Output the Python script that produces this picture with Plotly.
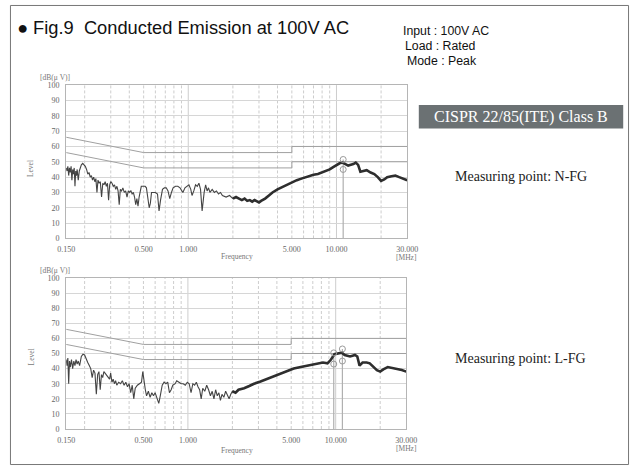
import plotly.graph_objects as go
import numpy as np

W, H = 641, 471

# ---------------- data ----------------
x_tick_vals = [0.15, 0.5, 1, 5, 10, 30]
x_tick_text = ["0.150", "0.500", "1.000", "5.000", "10.000", "30.000"]
y_tick_vals = [0, 10, 20, 30, 40, 50, 60, 70, 80, 90, 100]
grid_freq = [0.2, 0.3, 0.4, 0.5, 0.6, 0.7, 0.8, 0.9, 1, 2, 3, 4, 5, 6, 7, 8, 9, 10, 20]
decade_freq = [1, 10]

limit_freq = [0.15, 0.5, 5, 5, 30]
limit_qp = [66, 56, 56, 60, 60]
limit_av = [56, 46, 46, 50, 50]

nfg_freq = [0.150, 0.152, 0.154, 0.156, 0.158, 0.160, 0.162, 0.164, 0.166, 0.168, 0.170, 0.172, 0.174, 0.176,
            0.178, 0.181, 0.184, 0.187, 0.190, 0.194, 0.198, 0.202, 0.206, 0.210, 0.214, 0.218, 0.222, 0.226,
            0.230, 0.234, 0.238, 0.242, 0.246, 0.250, 0.255, 0.260, 0.265, 0.270, 0.275, 0.280, 0.285, 0.290,
            0.295, 0.300, 0.306, 0.312, 0.318, 0.324, 0.330, 0.336, 0.342, 0.348, 0.355, 0.362, 0.370, 0.378,
            0.386, 0.394, 0.402, 0.410, 0.418, 0.426, 0.434, 0.442, 0.450, 0.458, 0.466, 0.474, 0.482, 0.492,
            0.502, 0.512, 0.522, 0.532, 0.545, 0.555, 0.565, 0.58, 0.60, 0.62, 0.635, 0.65, 0.67, 0.69, 0.71,
            0.73, 0.75, 0.77, 0.79, 0.82, 0.85, 0.88, 0.92, 0.95, 0.98, 1.01, 1.04, 1.06, 1.09, 1.12, 1.15,
            1.18, 1.21, 1.24, 1.28, 1.31, 1.34, 1.37, 1.40, 1.45, 1.50, 1.55, 1.6, 1.65, 1.7, 1.8, 1.9, 2.0,
            2.1, 2.2, 2.3, 2.4, 2.5, 2.6, 2.7, 2.8, 2.9, 3.0, 3.1, 3.3, 3.5, 3.7, 4.0, 4.3, 4.6, 5.0, 5.4,
            5.8, 6.2, 6.6, 7.0, 7.5, 8.0, 8.5, 9.0, 9.5, 10.0, 10.5, 11.0, 11.5, 12.0, 12.5, 13.0, 13.5, 14.0,
            14.5, 15.0, 16.0, 17.0, 18.0, 19.0, 20.0, 21.0, 22.0, 23.5, 25.0, 26.5, 28.0, 30.0]
nfg_level = [46, 44, 47, 41, 46, 43, 47, 38, 45, 42, 46, 34, 44, 41,
             45, 38, 44, 46, 48, 49, 48, 47, 45, 42, 43, 40, 41, 38,
             40, 37, 39, 30, 38, 36, 37, 27, 36, 35, 37, 34, 36, 25,
             35, 37, 36, 34, 35, 32, 34, 31, 22, 32, 31, 33, 30, 31,
             27, 31, 30, 31, 29, 30, 27, 22, 26, 21, 27, 30, 34, 34,
             34, 34, 33, 28, 20, 23, 30, 30, 30, 29, 18, 25, 32, 33, 33,
             31, 26, 30, 33, 34, 34, 33, 30, 33, 34, 35, 32, 28, 31, 35, 34,
             36, 32, 18, 30, 35, 31, 33, 30, 32, 30, 31, 29, 30, 28, 27, 28, 26,
             27, 26, 25, 26, 24.5, 25, 24, 25, 24, 23.5, 24.5, 26, 28, 30, 32, 33.5, 35, 36.5, 38,
             39, 40, 41, 41.5, 42, 43, 44, 45, 46.5, 48, 49, 49.5, 48.5, 47.5, 48, 48.5, 49.5, 48,
             43.5, 44, 44.5, 43, 42, 40, 37.5, 38.5, 40, 40.5, 41, 40, 39, 38]

lfg_freq = [0.150, 0.152, 0.154, 0.156, 0.158, 0.160, 0.163, 0.166, 0.169, 0.172, 0.175, 0.178, 0.181, 0.185,
            0.190, 0.195, 0.200, 0.205, 0.210, 0.215, 0.220, 0.225, 0.230, 0.235, 0.240, 0.245, 0.250, 0.255,
            0.260, 0.265, 0.270, 0.275, 0.285, 0.295, 0.300, 0.306, 0.312, 0.318, 0.324, 0.330, 0.340, 0.350,
            0.360, 0.370, 0.380, 0.390, 0.400, 0.410, 0.420, 0.430, 0.440, 0.455, 0.470, 0.485, 0.495, 0.505,
            0.515, 0.525, 0.54, 0.555, 0.57, 0.585, 0.60, 0.62, 0.635, 0.65, 0.67, 0.69, 0.71, 0.73, 0.75,
            0.77, 0.79, 0.82, 0.84, 0.87, 0.90, 0.93, 0.96, 0.99, 1.02, 1.05, 1.08, 1.11, 1.14, 1.17, 1.20,
            1.23, 1.26, 1.30, 1.34, 1.38, 1.42, 1.46, 1.50, 1.54, 1.58, 1.62, 1.66, 1.70, 1.75, 1.80, 1.85,
            1.90, 1.95, 2.0, 2.1, 2.2, 2.4, 2.6, 2.8, 3.1, 3.4, 3.8, 4.2, 4.7, 5.2, 5.8, 6.5, 7.3, 8.2, 8.8,
            9.3, 9.8, 10.5, 11.0, 11.5, 12.0, 12.5, 13.0, 13.5, 14.0, 14.5, 15.2, 16.2, 17.0, 18.0, 19.0,
            20.0, 21.0, 22.5, 24.0, 26.0, 28.0, 30.0]
lfg_level = [46, 42, 47, 30, 45, 41, 46, 40, 45, 42, 46, 43, 45, 42,
             48, 49.5, 49, 47, 44, 42, 40, 34, 39, 37, 23, 36, 38, 26,
             36, 34, 38, 37, 35, 33, 37, 31, 33, 30, 32, 29, 31, 30,
             32, 29, 31, 28, 30, 24, 29, 20, 27, 29, 30, 31, 38, 30,
             26, 22, 25, 21, 24, 22, 24, 20, 17, 22, 29, 31, 30, 31, 24,
             26, 29, 30, 32, 31, 30, 30, 29, 31, 30, 24, 30, 29, 31, 28, 26,
             20, 27, 25, 29, 26, 22, 25, 20, 26, 22, 24, 19, 23, 21, 25, 22,
             20, 23, 25, 24, 26, 27, 28.5, 30, 31.5, 33, 35, 36.5, 38.5, 40, 41, 42, 43, 44, 43.5,
             46, 49.5, 50, 50.5, 49, 48.5, 48, 48.5, 49, 48, 42, 44, 44, 43.5, 41, 39,
             38, 39.5, 41, 40.5, 40, 39, 38]

nfg_mark_freq = [11.1]
nfg_mark_qp = [51.5]
nfg_mark_av = [45]
lfg_mark_freq = [9.7, 11.1]
lfg_mark_qp = [50.4, 53]
lfg_mark_av = [43, 45]

# ---------------- helpers ----------------
def PX(x):
    return x / W


def PY(y):
    return 1 - y / H


SERIF = "Liberation Serif, Times New Roman, serif"
SANS = "Liberation Sans, Arial, sans-serif"

fig = go.Figure()

panels = [
    ("x", "y", nfg_freq, nfg_level, nfg_mark_freq, nfg_mark_qp, nfg_mark_av),
    ("x2", "y2", lfg_freq, lfg_level, lfg_mark_freq, lfg_mark_qp, lfg_mark_av),
]

for xa, ya, fq, lv, mf, mqp, mav in panels:
    for lim in (limit_qp, limit_av):
        fig.add_trace(go.Scatter(x=limit_freq, y=lim, xaxis=xa, yaxis=ya, mode="lines",
                                 line=dict(color="#a0a0a0", width=1), hoverinfo="skip", showlegend=False))
    for f, q in zip(mf, mqp):
        fig.add_trace(go.Scatter(x=[f, f], y=[0, q], xaxis=xa, yaxis=ya, mode="lines",
                                 line=dict(color="#b0b0b0", width=1.2), hoverinfo="skip", showlegend=False))
    fig.add_trace(go.Scatter(x=fq, y=lv, xaxis=xa, yaxis=ya, mode="lines",
                             line=dict(color="#444444", width=1.1), showlegend=False))
    hi_f = [f for f in fq if f >= 2.0]
    hi_l = [l for f, l in zip(fq, lv) if f >= 2.0]
    fig.add_trace(go.Scatter(x=hi_f, y=hi_l, xaxis=xa, yaxis=ya, mode="lines",
                             line=dict(color="#2e2e2e", width=2.6), showlegend=False))
    fig.add_trace(go.Scatter(x=mf + mf, y=mqp + mav, xaxis=xa, yaxis=ya, mode="markers",
                             marker=dict(symbol="circle-open", size=6, color="#9a9a9a", line=dict(width=1)),
                             showlegend=False))
    for f in grid_freq:
        fig.add_shape(type="line", xref=xa, yref=ya, x0=f, x1=f, y0=0, y1=100, layer="below",
                      line=dict(color="#cdcdcd", width=1, dash="solid" if f in decade_freq else "3px,2px"))

axis_font = dict(family=SERIF, size=8, color="#666")
xcommon = dict(type="log", range=[np.log10(0.15), np.log10(30)], tickvals=x_tick_vals, ticktext=x_tick_text,
               showgrid=False, zeroline=False, showline=True, linecolor="#b5b5b5", linewidth=1, mirror=True,
               ticks="", tickfont=axis_font, ticklabelstandoff=3)
ycommon = dict(range=[0, 100], tickvals=y_tick_vals, showgrid=True, gridcolor="#d6d6d6", gridwidth=1,
               zeroline=False, showline=True, linecolor="#b5b5b5", linewidth=1, mirror=True, ticks="",
               tickfont=axis_font, ticklabelstandoff=4)

fig.update_layout(
    width=W, height=H, margin=dict(l=0, r=0, t=0, b=0),
    paper_bgcolor="white", plot_bgcolor="white", showlegend=False,
    xaxis=dict(domain=[PX(59), PX(411)], anchor="y", **xcommon),
    yaxis=dict(domain=[PY(239), PY(82.7)], anchor="x", **ycommon),
    xaxis2=dict(domain=[PX(59), PX(410)], anchor="y2", **xcommon),
    yaxis2=dict(domain=[PY(433.3), PY(279.3)], anchor="x2", **ycommon),
)

ann = []


def A(text, x, y, size, family, color="#222", xanchor="center", angle=0):
    ann.append(dict(text=text, x=PX(x), y=PY(y), xref="paper", yref="paper", showarrow=False,
                    xanchor=xanchor, yanchor="middle", textangle=angle,
                    font=dict(family=family, size=size, color=color)))


A("●\u00a0Fig.9\u00a0\u00a0Conducted Emission at 100V AC", 6, 24, 18.3, SANS, "#111", "left")
A("Input : 100V AC", 405, 28, 12.3, SANS, "#111", "left")
A("Load : Rated", 407, 43, 12.3, SANS, "#111", "left")
A("Mode : Peak", 409, 58, 12.3, SANS, "#111", "left")
A("CISPR 22/85(ITE) Class B", 528.5, 115, 16, SERIF, "white")
A("Measuring point: N-FG", 528, 176, 14, SERIF, "#222")
A("Measuring point: L-FG", 528, 361, 14, SERIF, "#222")
for top, lvl, freq, mhz in [(75, 168, 257, 258), (272, 360, 455.5, 453.5)]:
    A("[dB(\u03bc V)]", 47, top, 7.5, SERIF, "#777")
    A("Level", 23, lvl, 7.5, SERIF, "#777", angle=-90)
    A("Frequency", 235, freq, 7.5, SERIF, "#777")
    A("[MHz]", 410, mhz, 7.5, SERIF, "#777")
fig.update_layout(annotations=ann)

fig.add_shape(type="rect", xref="paper", yref="paper", x0=PX(423), x1=PX(634), y0=PY(127), y1=PY(103),
              fillcolor="#6b7173", line=dict(width=0), layer="below")
fig.add_shape(type="rect", xref="paper", yref="paper", x0=PX(1.5), x1=PX(639.5), y0=PY(469.5), y1=PY(1.5),
              line=dict(color="#777", width=1))

fig.write_html("out.html")
